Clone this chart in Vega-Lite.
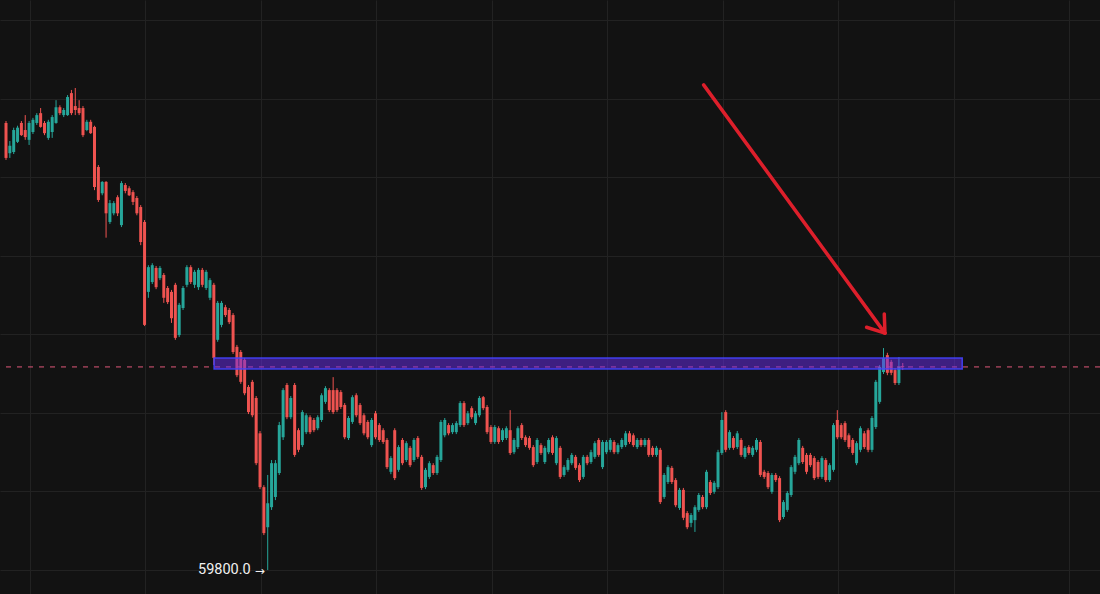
{
"$schema": "https://vega.github.io/schema/vega-lite/v6.json",
"width": 1100, "height": 594, "autosize": {"type": "none"}, "padding": 0,
"background": "#121212",
"config": {"view": {"stroke": null}, "axis": {"labels": false, "ticks": false, "domain": false, "gridColor": "#222222", "gridWidth": 1}},
"datasets": {
"candles": [
{"i":0,"o":60938,"h":60943,"l":60844,"c":60849},
{"i":1,"o":60861,"h":60892,"l":60849,"c":60880},
{"i":2,"o":60864,"h":60926,"l":60859,"c":60920},
{"i":3,"o":60890,"h":60931,"l":60887,"c":60926},
{"i":4,"o":60938,"h":60943,"l":60905,"c":60907},
{"i":5,"o":60920,"h":60958,"l":60895,"c":60902},
{"i":6,"o":60895,"h":60943,"l":60882,"c":60938},
{"i":7,"o":60915,"h":60951,"l":60910,"c":60946},
{"i":8,"o":60938,"h":60963,"l":60933,"c":60958},
{"i":9,"o":60963,"h":60976,"l":60926,"c":60928},
{"i":10,"o":60938,"h":60943,"l":60907,"c":60912},
{"i":11,"o":60900,"h":60946,"l":60895,"c":60941},
{"i":12,"o":60915,"h":60958,"l":60900,"c":60953},
{"i":13,"o":60938,"h":60996,"l":60936,"c":60978},
{"i":14,"o":60978,"h":60983,"l":60958,"c":60963},
{"i":15,"o":60958,"h":60976,"l":60953,"c":60971},
{"i":16,"o":60958,"h":61009,"l":60956,"c":61004},
{"i":17,"o":61014,"h":61022,"l":60958,"c":60963},
{"i":18,"o":60981,"h":61027,"l":60958,"c":60971},
{"i":19,"o":60976,"h":60996,"l":60958,"c":60963},
{"i":20,"o":60976,"h":60981,"l":60902,"c":60907},
{"i":21,"o":60920,"h":60946,"l":60917,"c":60941},
{"i":22,"o":60941,"h":60946,"l":60910,"c":60912},
{"i":23,"o":60928,"h":60931,"l":60767,"c":60775},
{"i":24,"o":60826,"h":60831,"l":60737,"c":60742},
{"i":25,"o":60759,"h":60790,"l":60754,"c":60788},
{"i":26,"o":60788,"h":60790,"l":60646,"c":60708},
{"i":27,"o":60686,"h":60742,"l":60681,"c":60734},
{"i":28,"o":60708,"h":60739,"l":60703,"c":60734},
{"i":29,"o":60749,"h":60754,"l":60701,"c":60708},
{"i":30,"o":60678,"h":60790,"l":60673,"c":60785},
{"i":31,"o":60780,"h":60785,"l":60759,"c":60765},
{"i":32,"o":60772,"h":60777,"l":60752,"c":60754},
{"i":33,"o":60762,"h":60767,"l":60729,"c":60737},
{"i":34,"o":60747,"h":60752,"l":60703,"c":60708},
{"i":35,"o":60724,"h":60729,"l":60627,"c":60635},
{"i":36,"o":60686,"h":60691,"l":60421,"c":60424},
{"i":37,"o":60508,"h":60576,"l":60493,"c":60571},
{"i":38,"o":60533,"h":60581,"l":60528,"c":60576},
{"i":39,"o":60569,"h":60574,"l":60515,"c":60520},
{"i":40,"o":60543,"h":60574,"l":60538,"c":60569},
{"i":41,"o":60551,"h":60556,"l":60480,"c":60493},
{"i":42,"o":60518,"h":60523,"l":60477,"c":60482},
{"i":43,"o":60508,"h":60513,"l":60429,"c":60441},
{"i":44,"o":60526,"h":60531,"l":60386,"c":60391},
{"i":45,"o":60398,"h":60480,"l":60393,"c":60475},
{"i":46,"o":60467,"h":60523,"l":60462,"c":60518},
{"i":47,"o":60526,"h":60576,"l":60520,"c":60571},
{"i":48,"o":60571,"h":60576,"l":60528,"c":60533},
{"i":49,"o":60526,"h":60564,"l":60518,"c":60559},
{"i":50,"o":60520,"h":60569,"l":60513,"c":60564},
{"i":51,"o":60564,"h":60569,"l":60520,"c":60526},
{"i":52,"o":60518,"h":60564,"l":60513,"c":60559},
{"i":53,"o":60493,"h":60543,"l":60487,"c":60538},
{"i":54,"o":60526,"h":60531,"l":60322,"c":60340},
{"i":55,"o":60386,"h":60485,"l":60381,"c":60480},
{"i":56,"o":60424,"h":60485,"l":60418,"c":60480},
{"i":57,"o":60469,"h":60475,"l":60444,"c":60449},
{"i":58,"o":60462,"h":60467,"l":60426,"c":60431},
{"i":59,"o":60449,"h":60454,"l":60350,"c":60355},
{"i":60,"o":60368,"h":60373,"l":60291,"c":60296},
{"i":61,"o":60355,"h":60360,"l":60274,"c":60279},
{"i":62,"o":60335,"h":60340,"l":60245,"c":60250},
{"i":63,"o":60266,"h":60271,"l":60197,"c":60202},
{"i":64,"o":60279,"h":60284,"l":60189,"c":60194},
{"i":65,"o":60238,"h":60243,"l":60067,"c":60072},
{"i":66,"o":60148,"h":60154,"l":60006,"c":60011},
{"i":67,"o":60011,"h":60016,"l":59889,"c":59894},
{"i":68,"o":59909,"h":60042,"l":59800,"c":59970},
{"i":69,"o":59960,"h":60080,"l":59953,"c":60072},
{"i":70,"o":59986,"h":60080,"l":59978,"c":60072},
{"i":71,"o":60047,"h":60177,"l":60042,"c":60169},
{"i":72,"o":60138,"h":60263,"l":60131,"c":60258},
{"i":73,"o":60271,"h":60276,"l":60184,"c":60189},
{"i":74,"o":60189,"h":60243,"l":60184,"c":60238},
{"i":75,"o":60271,"h":60276,"l":60088,"c":60093},
{"i":76,"o":60156,"h":60161,"l":60100,"c":60106},
{"i":77,"o":60118,"h":60207,"l":60113,"c":60202},
{"i":78,"o":60151,"h":60199,"l":60146,"c":60194},
{"i":79,"o":60189,"h":60194,"l":60146,"c":60151},
{"i":80,"o":60182,"h":60187,"l":60151,"c":60156},
{"i":81,"o":60161,"h":60194,"l":60156,"c":60189},
{"i":82,"o":60182,"h":60250,"l":60177,"c":60245},
{"i":83,"o":60228,"h":60268,"l":60223,"c":60263},
{"i":84,"o":60258,"h":60263,"l":60202,"c":60207},
{"i":85,"o":60258,"h":60291,"l":60197,"c":60202},
{"i":86,"o":60258,"h":60263,"l":60202,"c":60207},
{"i":87,"o":60253,"h":60258,"l":60210,"c":60215},
{"i":88,"o":60220,"h":60225,"l":60133,"c":60138},
{"i":89,"o":60136,"h":60192,"l":60131,"c":60187},
{"i":90,"o":60177,"h":60245,"l":60172,"c":60240},
{"i":91,"o":60245,"h":60250,"l":60189,"c":60194},
{"i":92,"o":60220,"h":60225,"l":60169,"c":60174},
{"i":93,"o":60194,"h":60199,"l":60143,"c":60148},
{"i":94,"o":60177,"h":60182,"l":60133,"c":60138},
{"i":95,"o":60118,"h":60187,"l":60113,"c":60182},
{"i":96,"o":60199,"h":60205,"l":60133,"c":60138},
{"i":97,"o":60169,"h":60174,"l":60126,"c":60131},
{"i":98,"o":60156,"h":60161,"l":60121,"c":60126},
{"i":99,"o":60131,"h":60136,"l":60057,"c":60062},
{"i":100,"o":60050,"h":60090,"l":60044,"c":60085},
{"i":101,"o":60156,"h":60161,"l":60029,"c":60034},
{"i":102,"o":60055,"h":60118,"l":60050,"c":60113},
{"i":103,"o":60131,"h":60136,"l":60067,"c":60072},
{"i":104,"o":60080,"h":60128,"l":60075,"c":60123},
{"i":105,"o":60111,"h":60116,"l":60062,"c":60067},
{"i":106,"o":60080,"h":60136,"l":60075,"c":60131},
{"i":107,"o":60136,"h":60141,"l":60083,"c":60088},
{"i":108,"o":60088,"h":60093,"l":60004,"c":60009},
{"i":109,"o":60011,"h":60060,"l":60006,"c":60055},
{"i":110,"o":60037,"h":60077,"l":60032,"c":60072},
{"i":111,"o":60067,"h":60072,"l":60042,"c":60047},
{"i":112,"o":60047,"h":60093,"l":60042,"c":60088},
{"i":113,"o":60080,"h":60182,"l":60075,"c":60177},
{"i":114,"o":60143,"h":60187,"l":60138,"c":60182},
{"i":115,"o":60169,"h":60174,"l":60143,"c":60148},
{"i":116,"o":60151,"h":60174,"l":60146,"c":60169},
{"i":117,"o":60151,"h":60179,"l":60146,"c":60174},
{"i":118,"o":60169,"h":60230,"l":60164,"c":60225},
{"i":119,"o":60225,"h":60230,"l":60164,"c":60169},
{"i":120,"o":60174,"h":60205,"l":60169,"c":60199},
{"i":121,"o":60212,"h":60217,"l":60184,"c":60189},
{"i":122,"o":60174,"h":60205,"l":60169,"c":60199},
{"i":123,"o":60194,"h":60243,"l":60189,"c":60238},
{"i":124,"o":60240,"h":60243,"l":60207,"c":60212},
{"i":125,"o":60215,"h":60220,"l":60146,"c":60151},
{"i":126,"o":60164,"h":60169,"l":60121,"c":60126},
{"i":127,"o":60126,"h":60169,"l":60121,"c":60164},
{"i":128,"o":60161,"h":60166,"l":60121,"c":60126},
{"i":129,"o":60131,"h":60161,"l":60126,"c":60156},
{"i":130,"o":60136,"h":60166,"l":60131,"c":60161},
{"i":131,"o":60156,"h":60207,"l":60093,"c":60098},
{"i":132,"o":60100,"h":60136,"l":60095,"c":60131},
{"i":133,"o":60113,"h":60166,"l":60108,"c":60161},
{"i":134,"o":60169,"h":60174,"l":60131,"c":60136},
{"i":135,"o":60138,"h":60143,"l":60113,"c":60118},
{"i":136,"o":60136,"h":60141,"l":60106,"c":60111},
{"i":137,"o":60113,"h":60118,"l":60062,"c":60067},
{"i":138,"o":60075,"h":60136,"l":60070,"c":60131},
{"i":139,"o":60118,"h":60123,"l":60093,"c":60098},
{"i":140,"o":60075,"h":60116,"l":60070,"c":60111},
{"i":141,"o":60100,"h":60136,"l":60095,"c":60131},
{"i":142,"o":60138,"h":60143,"l":60093,"c":60098},
{"i":143,"o":60072,"h":60141,"l":60067,"c":60136},
{"i":144,"o":60111,"h":60116,"l":60032,"c":60037},
{"i":145,"o":60042,"h":60067,"l":60037,"c":60062},
{"i":146,"o":60055,"h":60085,"l":60050,"c":60080},
{"i":147,"o":60072,"h":60098,"l":60067,"c":60093},
{"i":148,"o":60088,"h":60093,"l":60055,"c":60060},
{"i":149,"o":60067,"h":60072,"l":60024,"c":60029},
{"i":150,"o":60037,"h":60093,"l":60032,"c":60088},
{"i":151,"o":60088,"h":60093,"l":60067,"c":60072},
{"i":152,"o":60075,"h":60106,"l":60070,"c":60100},
{"i":153,"o":60088,"h":60128,"l":60083,"c":60123},
{"i":154,"o":60131,"h":60136,"l":60088,"c":60093},
{"i":155,"o":60062,"h":60131,"l":60057,"c":60126},
{"i":156,"o":60100,"h":60131,"l":60095,"c":60126},
{"i":157,"o":60106,"h":60136,"l":60100,"c":60131},
{"i":158,"o":60126,"h":60131,"l":60095,"c":60100},
{"i":159,"o":60100,"h":60123,"l":60095,"c":60118},
{"i":160,"o":60113,"h":60136,"l":60108,"c":60131},
{"i":161,"o":60118,"h":60154,"l":60113,"c":60148},
{"i":162,"o":60148,"h":60154,"l":60121,"c":60126},
{"i":163,"o":60143,"h":60148,"l":60113,"c":60118},
{"i":164,"o":60113,"h":60136,"l":60108,"c":60131},
{"i":165,"o":60131,"h":60136,"l":60113,"c":60118},
{"i":166,"o":60118,"h":60136,"l":60113,"c":60131},
{"i":167,"o":60131,"h":60136,"l":60088,"c":60093},
{"i":168,"o":60111,"h":60116,"l":60088,"c":60093},
{"i":169,"o":60093,"h":60116,"l":60088,"c":60111},
{"i":170,"o":60106,"h":60111,"l":59968,"c":59973},
{"i":171,"o":59986,"h":60047,"l":59981,"c":60042},
{"i":172,"o":60024,"h":60067,"l":60019,"c":60062},
{"i":173,"o":60060,"h":60065,"l":60019,"c":60024},
{"i":174,"o":60029,"h":60034,"l":59960,"c":59965},
{"i":175,"o":59958,"h":60009,"l":59953,"c":60004},
{"i":176,"o":60004,"h":60009,"l":59927,"c":59933},
{"i":177,"o":59945,"h":59950,"l":59904,"c":59909},
{"i":178,"o":59920,"h":59945,"l":59909,"c":59940},
{"i":179,"o":59927,"h":59965,"l":59897,"c":59960},
{"i":180,"o":59953,"h":59996,"l":59948,"c":59991},
{"i":181,"o":59986,"h":59991,"l":59955,"c":59960},
{"i":182,"o":59960,"h":60055,"l":59955,"c":60050},
{"i":183,"o":60024,"h":60029,"l":59991,"c":59996},
{"i":184,"o":59999,"h":60027,"l":59994,"c":60022},
{"i":185,"o":60011,"h":60106,"l":60006,"c":60100},
{"i":186,"o":60098,"h":60202,"l":60093,"c":60182},
{"i":187,"o":60202,"h":60207,"l":60100,"c":60106},
{"i":188,"o":60111,"h":60156,"l":60106,"c":60151},
{"i":189,"o":60136,"h":60141,"l":60106,"c":60111},
{"i":190,"o":60113,"h":60154,"l":60108,"c":60148},
{"i":191,"o":60131,"h":60136,"l":60088,"c":60093},
{"i":192,"o":60088,"h":60116,"l":60083,"c":60111},
{"i":193,"o":60113,"h":60118,"l":60093,"c":60098},
{"i":194,"o":60093,"h":60116,"l":60088,"c":60111},
{"i":195,"o":60106,"h":60136,"l":60100,"c":60131},
{"i":196,"o":60126,"h":60131,"l":60037,"c":60042},
{"i":197,"o":60050,"h":60055,"l":60032,"c":60037},
{"i":198,"o":60047,"h":60052,"l":60006,"c":60011},
{"i":199,"o":59999,"h":60047,"l":59994,"c":60042},
{"i":200,"o":60042,"h":60047,"l":60024,"c":60029},
{"i":201,"o":60034,"h":60039,"l":59922,"c":59927},
{"i":202,"o":59935,"h":59978,"l":59930,"c":59973},
{"i":203,"o":59953,"h":60001,"l":59948,"c":59996},
{"i":204,"o":59991,"h":60067,"l":59986,"c":60062},
{"i":205,"o":60050,"h":60093,"l":60044,"c":60088},
{"i":206,"o":60072,"h":60136,"l":60067,"c":60131},
{"i":207,"o":60111,"h":60116,"l":60070,"c":60075},
{"i":208,"o":60093,"h":60098,"l":60044,"c":60050},
{"i":209,"o":60093,"h":60098,"l":60062,"c":60067},
{"i":210,"o":60085,"h":60090,"l":60029,"c":60034},
{"i":211,"o":60075,"h":60080,"l":60032,"c":60037},
{"i":212,"o":60037,"h":60090,"l":60032,"c":60085},
{"i":213,"o":60080,"h":60085,"l":60024,"c":60029},
{"i":214,"o":60029,"h":60072,"l":60024,"c":60067},
{"i":215,"o":60055,"h":60174,"l":60050,"c":60169},
{"i":216,"o":60182,"h":60207,"l":60133,"c":60138},
{"i":217,"o":60169,"h":60174,"l":60133,"c":60138},
{"i":218,"o":60174,"h":60179,"l":60126,"c":60131},
{"i":219,"o":60143,"h":60148,"l":60108,"c":60113},
{"i":220,"o":60131,"h":60136,"l":60093,"c":60098},
{"i":221,"o":60072,"h":60128,"l":60067,"c":60123},
{"i":222,"o":60106,"h":60166,"l":60100,"c":60161},
{"i":223,"o":60148,"h":60154,"l":60108,"c":60113},
{"i":224,"o":60156,"h":60161,"l":60100,"c":60106},
{"i":225,"o":60106,"h":60192,"l":60100,"c":60187},
{"i":226,"o":60164,"h":60284,"l":60159,"c":60279},
{"i":227,"o":60228,"h":60322,"l":60223,"c":60317},
{"i":228,"o":60304,"h":60365,"l":60299,"c":60340},
{"i":229,"o":60347,"h":60353,"l":60296,"c":60302},
{"i":230,"o":60330,"h":60335,"l":60296,"c":60302},
{"i":231,"o":60309,"h":60314,"l":60271,"c":60276},
{"i":232,"o":60276,"h":60342,"l":60271,"c":60317},
{"i":233,"o":60319,"h":60327,"l":60309,"c":60317}
],
"zone": [{"x1": 54.07, "x2": 248.45, "y1": 60311.7, "y2": 60339.7}],
"last": [{"p": 60317}],
"arrow": [
{"x1": 181.26, "y1": 61035, "x2": 228.37, "y2": 60403},
{"x1": 228.37, "y1": 60403, "x2": 228.2, "y2": 60452},
{"x1": 228.37, "y1": 60403, "x2": 223.6, "y2": 60418}
],
"label": [{"i": 68, "p": 59800, "t": "59800.0", "a": "→"}]
},
"layer": [
{
"data": {"name": "candles"},
"mark": {"type": "rule", "strokeWidth": 1},
"encoding": {
"x": {"field": "i", "type": "quantitative", "scale": {"domain": [-0.26, 282.95], "nice": false, "zero": false}, "axis": {"grid": true, "title": null, "values": [6.2, 36.2, 66.2, 96.2, 126.2, 156.2, 186.2, 216.2, 246.2, 276.2]}},
"y": {"field": "l", "type": "quantitative", "scale": {"domain": [59739, 61251], "nice": false, "zero": false}, "axis": {"grid": true, "title": null, "values": [59800, 60000, 60200, 60400, 60600, 60800, 61000, 61200]}},
"y2": {"field": "h"},
"color": {"condition": {"test": "datum.c >= datum.o", "value": "#26a69a"}, "value": "#ef5350"}
}
},
{
"data": {"name": "candles"},
"mark": {"type": "bar", "size": 3},
"encoding": {
"x": {"field": "i", "type": "quantitative"},
"y": {"field": "o", "type": "quantitative"},
"y2": {"field": "c"},
"color": {"condition": {"test": "datum.c >= datum.o", "value": "#26a69a"}, "value": "#ef5350"}
}
},
{
"data": {"name": "last"},
"mark": {"type": "rule", "color": "#e0587a", "strokeWidth": 1, "strokeDash": [5, 6]},
"encoding": {"y": {"field": "p", "type": "quantitative"}}
},
{
"data": {"name": "zone"},
"mark": {"type": "rect", "fill": "#6a2cf0", "fillOpacity": 0.5, "stroke": "#4444ff", "strokeWidth": 1.5, "strokeOpacity": 0.9},
"encoding": {
"x": {"field": "x1", "type": "quantitative"}, "x2": {"field": "x2"},
"y": {"field": "y1", "type": "quantitative"}, "y2": {"field": "y2"}
}
},
{
"data": {"name": "arrow"},
"mark": {"type": "rule", "color": "#dd1f2b", "strokeWidth": 3.5, "strokeCap": "round"},
"encoding": {
"x": {"field": "x1", "type": "quantitative"}, "x2": {"field": "x2"},
"y": {"field": "y1", "type": "quantitative"}, "y2": {"field": "y2"}
}
},
{
"data": {"name": "label"},
"mark": {"type": "text", "align": "right", "baseline": "middle", "dx": -17, "fontSize": 14.5, "font": "Roboto", "color": "#f0f0f0"},
"encoding": {
"x": {"field": "i", "type": "quantitative"},
"y": {"field": "p", "type": "quantitative"},
"text": {"field": "t"}
}
},
{
"data": {"name": "label"},
"mark": {"type": "text", "align": "right", "baseline": "middle", "dx": -3, "dy": 1, "fontSize": 12, "font": "DejaVu Sans", "color": "#f0f0f0"},
"encoding": {
"x": {"field": "i", "type": "quantitative"},
"y": {"field": "p", "type": "quantitative"},
"text": {"field": "a"}
}
}
]
}
